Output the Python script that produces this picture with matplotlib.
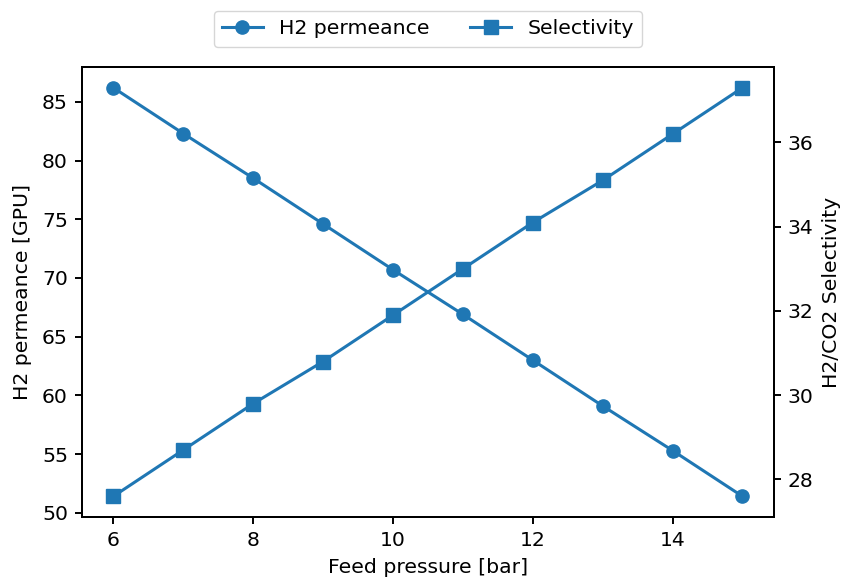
import matplotlib
matplotlib.use("Agg")
import matplotlib.pyplot as plt

# Feed pressure sweep
pressure = [6, 7, 8, 9, 10, 11, 12, 13, 14, 15]
h2_permeance = [86.2, 82.3, 78.5, 74.6, 70.7, 66.9, 63.0, 59.1, 55.3, 51.4]
selectivity = [27.6, 28.7, 29.8, 30.8, 31.9, 33.0, 34.1, 35.1, 36.2, 37.3]

color = "#1f77b4"
plt.rcParams["font.size"] = 14.7

fig = plt.figure(figsize=(8.44, 5.80), dpi=100)
ax = fig.add_axes([0.097, 0.109, 0.820, 0.775])
ax2 = ax.twinx()

l1, = ax.plot(pressure, h2_permeance, marker="o", color=color, lw=2.2, ms=9.5,
              label="H2 permeance")
l2, = ax2.plot(pressure, selectivity, marker="s", color=color, lw=2.2, ms=9.5,
               label="Selectivity")

ax.set_xlabel("Feed pressure [bar]", labelpad=6)
ax.set_ylabel("H2 permeance [GPU]", labelpad=7)
ax2.set_ylabel("H2/CO2 Selectivity", labelpad=6)

ax.set_xticks([6, 8, 10, 12, 14])
ax.set_yticks([50, 55, 60, 65, 70, 75, 80, 85])
ax2.set_yticks([28, 30, 32, 34, 36])

for a in (ax, ax2):
    for s in a.spines.values():
        s.set_linewidth(1.4)
    a.tick_params(width=1.4, length=5, pad=5)

fig.legend(handles=[l1, l2], loc="center", bbox_to_anchor=(0.507, 0.950),
           ncol=2, frameon=True, columnspacing=2.0)

fig.savefig("out.png", dpi=100)
